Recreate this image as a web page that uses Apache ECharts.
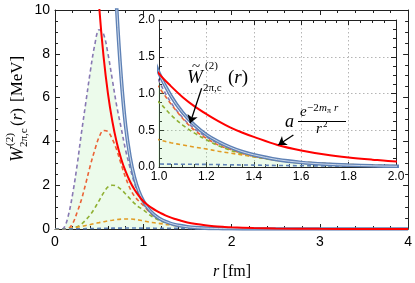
<!DOCTYPE html>
<html><head><meta charset="utf-8">
<script src="https://cdn.jsdelivr.net/npm/echarts@6/dist/echarts.min.js"></script>
<style>html,body{margin:0;padding:0;background:#fff}#c{width:415px;height:283px}</style>
</head><body><div id="c"></div>
<script>
// r values [fm]
const r = [0,0.05,0.1,0.15,0.2,0.25,0.3,0.35,0.4,0.45,0.5,0.55,0.6,0.65,0.7,0.75,0.8,0.85,0.9,0.95,
           1.0,1.05,1.1,1.15,1.2,1.25,1.3,1.35,1.4,1.5,1.6,1.7,1.8,1.9,2.0,2.25,2.5,3.0,3.5,4.0];
// a e^{-2 m_pi r}/r^2  (red solid)
const redSolid = [null,null,null,null,null,null,null,null,null,
  13.5,10.2,7.88,6.18,4.91,3.94,3.20,2.63,2.17,1.80,1.51,
  1.27,1.10,0.95,0.825,0.72,0.625,0.54,0.47,0.41,
  0.30,0.225,0.17,0.13,0.10,0.075,
  0.042,0.024,0.0085,0.0031,0.0012];
// W-tilde (blue solid)
const blueSolid = [null,null,null,null,null,null,null,null,null,null,null,null,null,
  14.2,10.0,6.9,4.7,3.3,2.35,1.72,
  1.28,0.97,0.74,0.57,0.44,0.345,0.27,0.21,0.165,
  0.10,0.062,0.039,0.025,0.016,0.010,
  0.004,0.0015,0.0002,0,0];
// dashed components
const purpleDash = [0,0,0.05,0.6,1.6,2.9,4.4,5.8,7.2,8.4,9.1,8.9,8.0,6.8,5.6,4.6,3.6,2.8,2.1,1.55,
  1.17,0.88,0.67,0.52,0.41,0.32,0.25,0.195,0.155,
  0.095,0.058,0.036,0.023,0.015,0.01,
  0.004,0.001,0,0,0];
const redDash = [0,0,0,0.02,0.25,0.75,1.35,2.1,2.9,3.6,4.2,4.5,4.45,4.1,3.6,2.95,2.35,1.85,1.5,1.27,
  1.08,0.86,0.66,0.5,0.39,0.3,0.24,0.185,0.145,
  0.09,0.055,0.035,0.022,0.014,0.009,
  0.003,0.001,0,0,0];
const greenDash = [0,0,0,0,0.02,0.1,0.22,0.42,0.65,0.95,1.3,1.65,1.92,2.0,1.95,1.8,1.6,1.38,1.17,1.0,
  0.88,0.71,0.57,0.46,0.37,0.29,0.23,0.18,0.14,
  0.088,0.054,0.034,0.021,0.013,0.008,
  0.003,0.001,0,0,0];
const orangeDash = [0,0,0,0.02,0.05,0.08,0.12,0.16,0.2,0.25,0.29,0.33,0.37,0.4,0.43,0.45,0.46,0.46,0.44,0.41,
  0.37,0.33,0.3,0.27,0.245,0.215,0.19,0.165,0.14,
  0.10,0.07,0.05,0.035,0.025,0.018,
  0.007,0.003,0.0005,0,0];
const blueDash = [0,0,0,0.002,0.005,0.008,0.01,0.015,0.02,0.024,0.028,0.032,0.035,0.038,0.04,0.042,0.043,0.043,0.043,0.042,
  0.04,0.039,0.038,0.037,0.035,0.033,0.03,0.028,0.026,
  0.021,0.017,0.014,0.011,0.009,0.007,
  0.004,0.002,0.0005,0,0];
// tick values
const mainXTicks = [0,1,2,3,4];
const mainYTicks = [0,2,4,6,8,10];
const insetXTicks = [1.0,1.2,1.4,1.6,1.8,2.0];
const insetYTicks = [0.0,0.5,1.0,1.5,2.0];

const pairs = a => r.map((x,i)=>[x,a[i]]).filter(p=>p[1]!==null);
const SANS = '"Liberation Sans", Arial, sans-serif';
const SERIF = '"Liberation Serif", "Times New Roman", serif';

function axis(kind, grid, pos, ticks, minorSplit, labelOn, fs, margin, extra){
  const ax = {
    type:'value', gridIndex:grid, position:pos,
    min:ticks[0], max:ticks[ticks.length-1], interval:ticks[1]-ticks[0],
    axisLine:{show:true,onZero:false,lineStyle:{color:'#222',width:1}},
    axisTick:{show:true,inside:true,length:5,lineStyle:{color:'#222',width:1}},
    minorTick:{show:true,splitNumber:minorSplit,length:3,lineStyle:{color:'#222',width:1}},
    axisLabel:{show:labelOn,fontFamily:SANS,fontSize:fs,color:'#000',margin:margin,
      formatter: v => grid===1 ? v.toFixed(1) : String(Math.round(v)),
      showMinLabel:true, showMaxLabel:true},
    splitLine:{show:false},
    z: grid===1 ? 6 : 2
  };
  return Object.assign(ax, extra||{});
}
const dotted = {splitLine:{show:true,lineStyle:{color:'#b5b5b5',type:[1.5,2.5],width:1}}};

function seriesSet(gx, gy, z){
  const base = {type:'line', xAxisIndex:gx, yAxisIndex:gy, showSymbol:false, symbol:'none', smooth:0.35, clip:true, z:z, animation:false, silent:true};
  const dash = (data,color)=>Object.assign({},base,{data:pairs(data),lineStyle:{color:color,width:1.6,type:[4,3]}});
  return [
    Object.assign(dash(purpleDash,'#8778b3'),{areaStyle:{color:'rgba(150,235,140,0.25)'}}),
    dash(redDash,'#eb6235'),
    dash(greenDash,'#8fb032'),
    dash(orangeDash,'#e19c24'),
    dash(blueDash,'#5e81b5'),
    Object.assign({},base,{data:pairs(blueSolid),lineStyle:{color:'#5e81b5',width:3.6}}),
    Object.assign({},base,{data:pairs(blueSolid),lineStyle:{color:'#d8e2f0',width:0.9}}),
    Object.assign({},base,{data:pairs(redSolid),lineStyle:{color:'#ff0000',width:2}})
  ];
}

const mainSeries = seriesSet(0,0,2);
const insetSeries = seriesSet(2,2,7);
insetSeries[insetSeries.length-1].markLine = {
  silent:true, animation:false, symbol:['none','arrow'], symbolSize:8, z:9,
  lineStyle:{color:'#000',width:1.3,type:'solid'}, label:{show:false},
  data:[
    [{coord:[1.180,1.071]},{coord:[1.131,0.595]}],
    [{coord:[1.567,0.435]},{coord:[1.503,0.300]}]
  ]
};

const txt = (x,y,text,font,extra)=>({type:'text',x:x,y:y,z:20,silent:true,
  style:Object.assign({text:text,font:font,fill:'#000',textAlign:'left',textVerticalAlign:'middle'},extra||{})});

const option = {
  animation:false,
  backgroundColor:'#fff',
  grid:[
    {left:55,top:10,width:355,height:219,show:false,z:1},
    {left:159,top:20,width:237,height:147,show:true,backgroundColor:'#fff',borderWidth:0,z:5}
  ],
  xAxis:[
    axis('x',0,'bottom',mainXTicks,5,true,14,6),
    axis('x',0,'top',mainXTicks,5,false,14,6),
    axis('x',1,'bottom',insetXTicks,4,true,12,4,dotted),
    axis('x',1,'top',insetXTicks,4,false,12,4)
  ],
  yAxis:[
    axis('y',0,'left',mainYTicks,4,true,14,5),
    axis('y',0,'right',mainYTicks,4,false,14,5),
    axis('y',1,'left',insetYTicks,4,true,12,4,dotted),
    axis('y',1,'right',insetYTicks,4,false,12,4)
  ],
  series: mainSeries.concat(insetSeries),
  graphic:[
    // y-axis title, rotated
    {type:'group', x:18, y:162, rotation:Math.PI/2, silent:true, z:20, children:[
      txt(0,0,'W','italic 18px '+SERIF),
      txt(16,-8,'(2)','11px '+SERIF),
      txt(15,6,'2π,c','11px '+SERIF),
      {type:'text',x:36,y:0,z:20,style:{text:'{n|(}{i|r}{n|)}',fill:'#000',textAlign:'left',textVerticalAlign:'middle',
        rich:{n:{fontFamily:SERIF,fontSize:17,fill:'#000'},i:{fontFamily:SERIF,fontSize:17,fontStyle:'italic',fill:'#000'}}}},
      txt(60,0,'[MeV]','17px '+SERIF)
    ]},
    // x-axis title
    {type:'text',x:232,y:272,z:20,silent:true,style:{text:'{i|r} {n|[fm]}',fill:'#000',textAlign:'center',textVerticalAlign:'middle',
      rich:{n:{fontFamily:SERIF,fontSize:16,fill:'#000'},i:{fontFamily:SERIF,fontSize:16,fontStyle:'italic',fill:'#000'}}}},
    // W-tilde label
    txt(192,67,'~','15px '+SERIF),
    txt(187,78,'W','italic 19px '+SERIF),
    txt(205,66,'(2)','11px '+SERIF),
    txt(203,88,'2π,c','11px '+SERIF),
    {type:'text',x:228,y:78,z:20,silent:true,style:{text:'{n|(}{i|r}{n|)}',fill:'#000',textAlign:'left',textVerticalAlign:'middle',
      rich:{n:{fontFamily:SERIF,fontSize:19,fill:'#000'},i:{fontFamily:SERIF,fontSize:19,fontStyle:'italic',fill:'#000'}}}},
    // a e^{-2 m_pi r}/r^2 label
    txt(285,122,'a','italic 18px '+SERIF),
    txt(300,112,'e','italic 15px '+SERIF),
    txt(307,108,'−2','11px '+SERIF),
    txt(319,108,'m','italic 11px '+SERIF),
    txt(327,111,'π','8px '+SERIF),
    txt(334,108,'r','italic 11px '+SERIF),
    {type:'line',z:20,silent:true,shape:{x1:298,y1:121.5,x2:346,y2:121.5},style:{stroke:'#000',lineWidth:1}},
    txt(316,129,'r','italic 15px '+SERIF),
    txt(323,125,'2','9px '+SERIF)
  ]
};
const chart = echarts.init(document.getElementById('c'),null,{renderer:'canvas'});
chart.setOption(option);
</script></body></html>
